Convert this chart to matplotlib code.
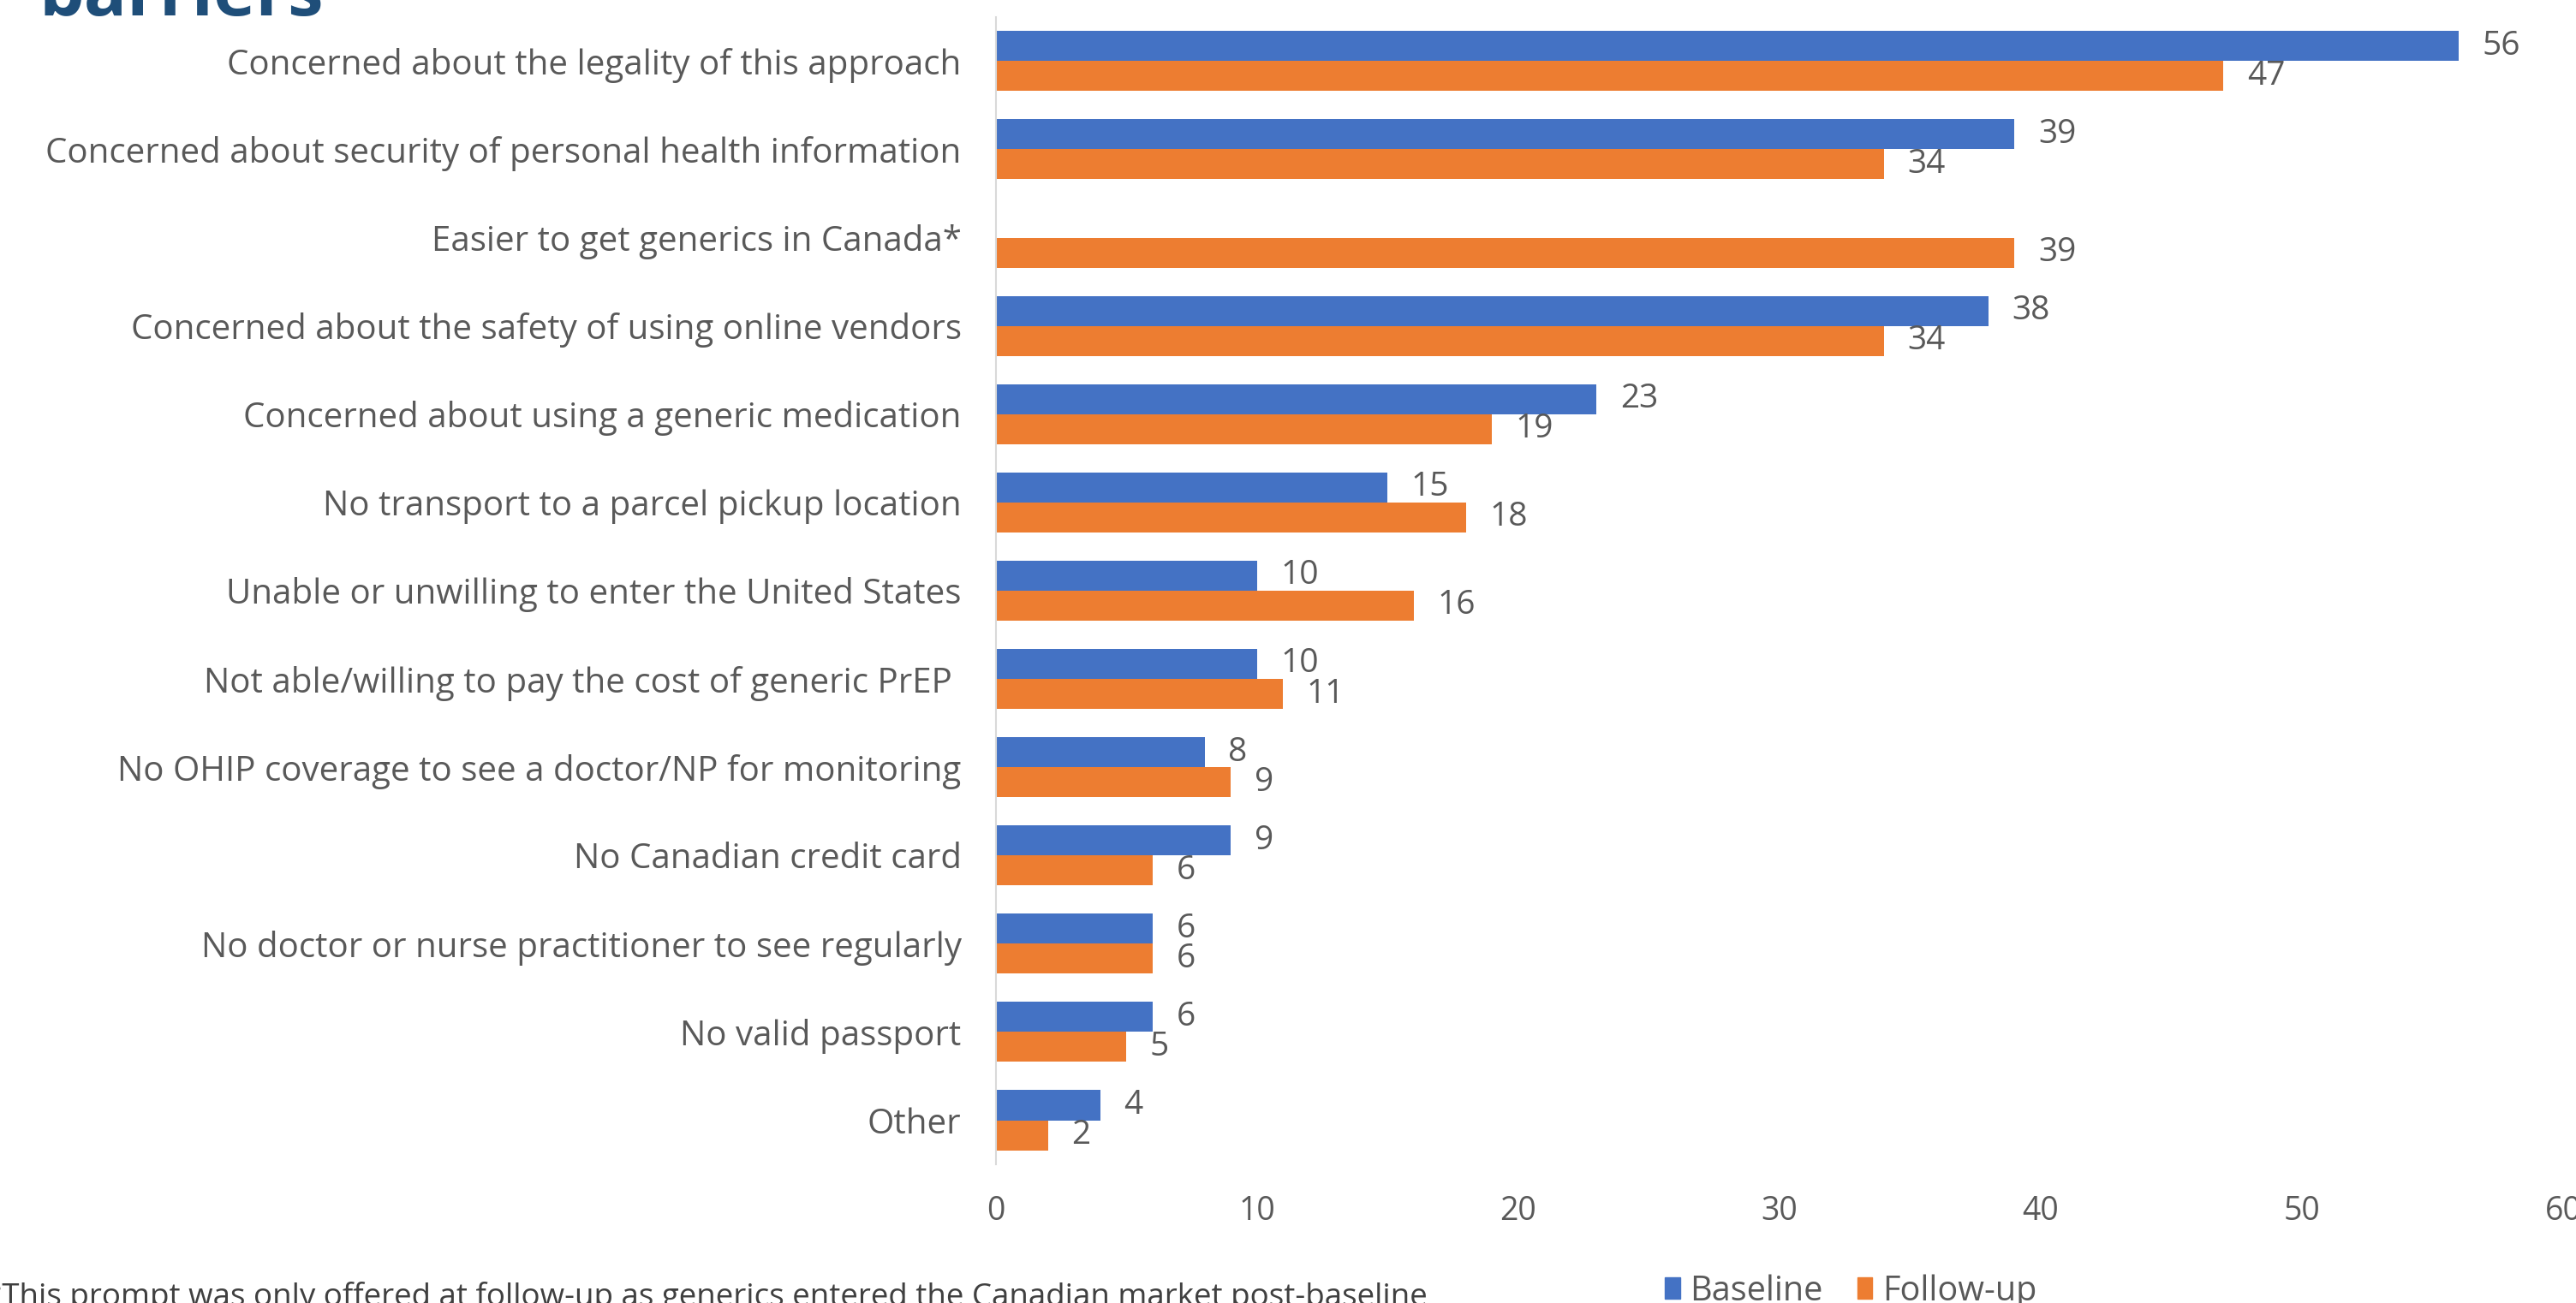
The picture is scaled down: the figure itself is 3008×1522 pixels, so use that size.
import numpy as np
import matplotlib.pyplot as plt
from matplotlib.patches import Patch

categories = [
    "Concerned about the legality of this approach",
    "Concerned about security of personal health information",
    "Easier to get generics in Canada*",
    "Concerned about the safety of using online vendors",
    "Concerned about using a generic medication",
    "No transport to a parcel pickup location",
    "Unable or unwilling to enter the United States",
    "Not able/willing to pay the cost of generic PrEP ",
    "No OHIP coverage to see a doctor/NP for monitoring",
    "No Canadian credit card",
    "No doctor or nurse practitioner to see regularly",
    "No valid passport",
    "Other",
]
baseline = [56, 39, None, 38, 23, 15, 10, 10, 8, 9, 6, 6, 4]
followup = [47, 34, 39, 34, 19, 18, 16, 11, 9, 6, 6, 5, 2]

blue = "#4472C4"
orange = "#ED7D31"
txt = "#595959"

plt.rcParams['font.family'] = ['Open Sans', 'DejaVu Sans']

fig = plt.figure(figsize=(30.08, 15.22), dpi=100)
ax = fig.add_axes([0.3866, 0.1064, 0.6084, 0.8806])

y = np.arange(len(categories))
h = 0.34
for i, (b, f) in enumerate(zip(baseline, followup)):
    if b is not None:
        ax.barh(i - h / 2, b, height=h, color=blue)
        ax.text(b + 0.9, i - h / 2, str(b), va='center', ha='left', fontsize=28, color=txt)
    ax.barh(i + h / 2, f, height=h, color=orange)
    ax.text(f + 0.9, i + h / 2, str(f), va='center', ha='left', fontsize=28, color=txt)

ax.set_ylim(len(categories) - 0.5, -0.5)
ax.set_xlim(0, 60)
ax.set_yticks(y)
ax.set_yticklabels(categories, fontsize=29, color=txt)
ax.set_xticks(range(0, 61, 10))
ax.tick_params(axis='x', labelsize=27, labelcolor=txt, length=0, pad=26)
ax.tick_params(axis='y', length=0, pad=29)
for s in ['top', 'right', 'bottom']:
    ax.spines[s].set_visible(False)
ax.spines['left'].set_color('#D9D9D9')
ax.spines['left'].set_linewidth(1.5)

fig.text(0.015, 0.988, "barriers", fontsize=60, fontweight='bold', color='#1F4E79',
         ha='left', va='baseline')

fig.text(-0.006, -0.008, "*This prompt was only offered at follow-up as generics entered the Canadian market post-baseline",
         fontsize=26.5, color='#404040', ha='left', va='bottom')

handles = [Patch(color=blue, label='Baseline'), Patch(color=orange, label='Follow-up')]
fig.legend(handles=handles, loc='center', bbox_to_anchor=(0.7185, 0.009), ncol=2,
           frameon=False, fontsize=28.5, labelcolor=txt, handlelength=0.45, handleheight=0.6,
           handletextpad=0.3, columnspacing=1.0)

fig.savefig("out.png", dpi=100)
